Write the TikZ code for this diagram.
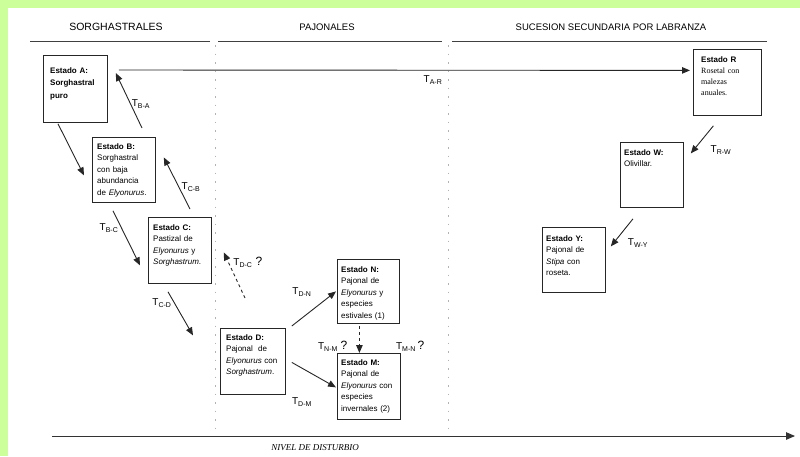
\documentclass[tikz,border=0pt]{standalone}
\usepackage{fontspec}
\setmainfont{Liberation Sans}
\newfontfamily\seriffont{Liberation Serif}
\usetikzlibrary{arrows.meta}
\definecolor{verdeborde}{RGB}{204,255,153}
\tikzset{
  estado/.style={draw=black!85, line width=0.8pt, rectangle, anchor=north west, inner sep=0pt},   % caja de estado
  texto/.style={anchor=base west, align=left, text width=60, inner sep=0pt,
    font=\fontsize{8}{11.5}\selectfont},                                               % texto de la caja
  trans/.style={draw=black!85, line width=0.9pt, -{Triangle[length=8pt,width=6.5pt]}}, % transicion
  dudosa/.style={trans, dashed},                                                       % transicion dudosa
  etiq/.style={font=\fontsize{10}{12}\selectfont, inner sep=0pt},                      % T_{x-y}
  duda/.style={font=\fontsize{12}{14}\selectfont, inner sep=0pt},                      % signo ?
  titulo/.style={font=\fontsize{9.5}{12}\selectfont, inner sep=0pt},
  linea/.style={draw=black!75, line width=1pt},
  separa/.style={draw=gray!60, line width=0.5pt, dash pattern=on 1.5pt off 7pt},
  eje/.style={draw=black!80, line width=1pt, -{Triangle[length=9pt,width=7.5pt]}}
}

\begin{document}
\begin{tikzpicture}[x=1pt, y=-1pt]

  % marco verde
  \useasboundingbox (0,0) rectangle (800,456);
  \fill[verdeborde] (0,0) rectangle (8,456);
  \fill[verdeborde] (0,0) rectangle (800,7.5);

  % encabezados
  \node (sorg) [titulo, font=\fontsize{10.5}{12}\selectfont] at (116,27) {SORGHASTRALES};
  \node (pajo) [titulo] at (327,27) {PAJONALES};
  \node (suce) [titulo] at (611,27) {SUCESION SECUNDARIA POR LABRANZA};
  \draw[linea] (30,41) -- (210,41);
  \draw[linea] (218,41) -- (442,41);
  \draw[linea] (452,41) -- (767,41);

  % separadores punteados
  \draw[separa] (215,45) -- (215,432);
  \draw[separa] (448,45) -- (448,432);

  % estados sorghastrales
  \node (A) [estado, minimum width=64, minimum height=67] at (43,55) {};
  \node (tA) [texto, font=\fontsize{8}{12.5}\selectfont\bfseries] at ([shift={(7,18)}]A.north west)
    {Estado A:\\Sorghastral\\puro};
  \node (B) [estado, minimum width=63, minimum height=65] at (92,137) {};
  \node (tB) [texto] at ([shift={(5,12)}]B.north west)
    {\textbf{Estado B:}\\Sorghastral\\con baja\\abundancia\\de \textit{Elyonurus}.};
  \node (C) [estado, minimum width=63, minimum height=66] at (148,217) {};
  \node (tC) [texto] at ([shift={(5,13)}]C.north west)
    {\textbf{Estado C:}\\Pastizal de\\\textit{Elyonurus} y\\\textit{Sorghastrum}.};

  % estados pajonales
  \node (D) [estado, minimum width=65, minimum height=66] at (220,328) {};
  \node (tD) [texto] at ([shift={(6,12)}]D.north west)
    {\textbf{Estado D:}\\Pajonal~ de\\\textit{Elyonurus} con\\\textit{Sorghastrum}.};
  \node (N) [estado, minimum width=62, minimum height=64] at (337,259) {};
  \node (tN) [texto] at ([shift={(4,13)}]N.north west)
    {\textbf{Estado N:}\\Pajonal de\\\textit{Elyonurus} y\\especies\\estivales (1)};
  \node (M) [estado, minimum width=63, minimum height=66] at (337,353) {};
  \node (tM) [texto] at ([shift={(4,12)}]M.north west)
    {\textbf{Estado M:}\\Pajonal de\\\textit{Elyonurus} con\\especies\\invernales (2)};

  % estados por labranza
  \node (R) [estado, minimum width=68, minimum height=66] at (693,49) {};
  \node (tR) [texto, font=\fontsize{8}{11}\selectfont] at ([shift={(8,13)}]R.north west)
    {\textbf{Estado R}\\{\seriffont Rosetal con\\malezas\\anuales.}};
  \node (W) [estado, minimum width=63, minimum height=65] at (620,142) {};
  \node (tW) [texto] at ([shift={(4,13)}]W.north west)
    {\textbf{Estado W:}\\Olivillar.};
  \node (Y) [estado, minimum width=63, minimum height=65] at (542,227) {};
  \node (tY) [texto] at ([shift={(4,14)}]Y.north west)
    {\textbf{Estado Y:}\\Pajonal de\\\textit{Stipa} con\\roseta.};

  % transiciones
  \draw[trans] ([shift={(15,1)}]A.south west) -- ([shift={(-8,5.5)}]B.west);
  \draw[trans] ([shift={(50,-9)}]B.north west) -- ([shift={(8,18)}]A.north east);
  \draw[trans] ([shift={(21,8)}]B.south west) -- ([shift={(-8,15)}]C.west);
  \draw[trans] ([shift={(42,-8)}]C.north west) -- ([shift={(8,-12.5)}]B.east);
  \draw[dudosa] ([shift={(25,-30)}]D.north west) -- ([shift={(12,2)}]C.east);
  \draw[trans] ([shift={(20,8)}]C.south west) -- ([shift={(-27,-26)}]D.west);
  \draw[trans] ([shift={(6,-2)}]D.north east) -- ([shift={(-1,0)}]N.west);
  \draw[trans] ([shift={(6,1)}]D.east) -- ([shift={(-1,1)}]M.west);
  \draw[dudosa] ([shift={(-9,2)}]N.south) -- ([shift={(-9.5,0)}]M.north);
  \draw[trans] ([shift={(11,15)}]A.north east) -- ([shift={(-3,-12)}]R.west);
  \draw[trans] ([shift={(-14,10)}]R.south) -- ([shift={(7,-21.5)}]W.east);
  \draw[trans] ([shift={(13,11)}]W.south west) -- ([shift={(5,-13.5)}]Y.east);

  % rotulos de transiciones
  \node (lBA) [etiq] at (141,104) {T\textsubscript{B-A}};
  \node (lBC) [etiq] at (109,228) {T\textsubscript{B-C}};
  \node (lCB) [etiq] at (191,187) {T\textsubscript{C-B}};
  \node (lDC) [etiq] at (243,263) {T\textsubscript{D-C}};
  \node (qDC) [duda] at (259,261) {?};
  \node (lCD) [etiq] at (162,303) {T\textsubscript{C-D}};
  \node (lDN) [etiq] at (302,292) {T\textsubscript{D-N}};
  \node (lDM) [etiq] at (302,402) {T\textsubscript{D-M}};
  \node (lNM) [etiq] at (328,347) {T\textsubscript{N-M}};
  \node (qNM) [duda] at (344,345) {?};
  \node (lMN) [etiq] at (406,347) {T\textsubscript{M-N}};
  \node (qMN) [duda] at (421,345) {?};
  \node (lAR) [etiq] at (433,80) {T\textsubscript{A-R}};
  \node (lRW) [etiq] at (721,150) {T\textsubscript{R-W}};
  \node (lWY) [etiq] at (638,243) {T\textsubscript{W-Y}};

  % eje de disturbio
  \coordinate (ejeIni) at (52,436);
  \coordinate (ejeFin) at (795,436);
  \draw[eje] (ejeIni) -- (ejeFin);
  \node (nivel) [font=\seriffont\itshape\fontsize{9}{11}\selectfont, inner sep=0pt] at (315,448) {NIVEL DE DISTURBIO};

\end{tikzpicture}
\end{document}
